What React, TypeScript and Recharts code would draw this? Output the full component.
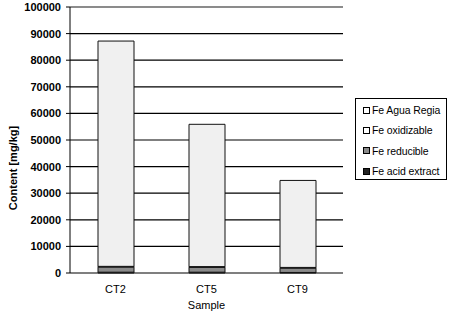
import React from "react"
import { BarChart, Bar, XAxis, YAxis, CartesianGrid, ReferenceLine } from "recharts"

const samples = ["CT2", "CT5", "CT9"]
const feAcidExtract = [300, 300, 200]
const feReducible = [1900, 1800, 1600]
const feOxidizable = [300, 300, 300]
const feAguaRegia = [84700, 53500, 32700]
const yTicks = [0, 10000, 20000, 30000, 40000, 50000, 60000, 70000, 80000, 90000, 100000]

const series = [
  { key: "Fe acid extract", values: feAcidExtract, fill: "#333333" },
  { key: "Fe reducible", values: feReducible, fill: "#8a8a8a" },
  { key: "Fe oxidizable", values: feOxidizable, fill: "#ffffff" },
  { key: "Fe Agua Regia", values: feAguaRegia, fill: "#f0f0f0" },
]

const legendItems = [
  { name: "Fe Agua Regia", fill: "#ffffff" },
  { name: "Fe oxidizable", fill: "#ffffff" },
  { name: "Fe reducible", fill: "#8a8a8a" },
  { name: "Fe acid extract", fill: "#222222" },
]

const rows = samples.map((s, i) => {
  const row: any = { sample: s }
  series.forEach((sr) => {
    row[sr.key] = sr.values[i]
  })
  return row
})

const font = "'Liberation Sans', Arial, sans-serif"

function LegendBox() {
  return (
    <div
      style={{
        position: "absolute",
        left: 355,
        top: 98,
        width: 92,
        height: 82,
        border: "1px solid #000",
        background: "#fff",
        fontFamily: font,
        fontSize: 10.5,
        letterSpacing: -0.1,
        color: "#000",
        boxSizing: "border-box",
        paddingTop: 1,
      }}
    >
      {legendItems.map((it) => (
        <div key={it.name} style={{ display: "flex", alignItems: "center", height: 20.3, paddingLeft: 7 }}>
          <span
            style={{
              display: "inline-block",
              width: 5,
              height: 5,
              border: "1px solid #000",
              background: it.fill,
              marginRight: 2,
            }}
          />
          <span>{it.name}</span>
        </div>
      ))}
    </div>
  )
}

export default function App() {
  return (
    <div style={{ position: "absolute", left: 0, top: 0, width: 454, height: 311, background: "#fff" }}>
      <BarChart width={454} height={311} data={rows} margin={{ top: 7, right: 111, left: 0, bottom: 0 }} barSize={36}>
        <CartesianGrid vertical={false} stroke="#000" strokeWidth={1.2} />
        <XAxis
          xAxisId="ticks"
          type="number"
          domain={[0, 3]}
          ticks={[0, 1, 2, 3]}
          tick={false}
          height={0}
          tickSize={4}
          stroke="#000"
          allowDataOverflow
        />
        <XAxis
          dataKey="sample"
          height={38}
          tickLine={false}
          axisLine={false}
          tick={{ fontFamily: font, fontSize: 11, fill: "#000" }}
          tickMargin={6}
          label={{ value: "Sample", position: "insideBottom", offset: 2, fontFamily: font, fontSize: 11, fill: "#000" }}
        />
        <YAxis
          width={70}
          domain={[0, 100000]}
          ticks={yTicks}
          interval={0}
          tickSize={4}
          tickMargin={5}
          stroke="#000"
          tick={{ fontFamily: font, fontSize: 11, fontWeight: "bold", fill: "#000" }}
          label={{
            content: () => (
              <text
                x={13}
                y={168}
                transform="rotate(-90 13 168)"
                textAnchor="middle"
                dominantBaseline="central"
                fontFamily={font}
                fontSize={11}
                fontWeight="bold"
                fill="#000"
              >
                Content [mg/kg]
              </text>
            ),
          }}
        />
        {series.map((sr) => (
          <Bar
            key={sr.key}
            dataKey={sr.key}
            stackId="fe"
            fill={sr.fill}
            stroke="#111"
            strokeWidth={1}
            isAnimationActive={false}
          />
        ))}
        <ReferenceLine y={100000} stroke="#999" strokeWidth={1} />
        <ReferenceLine x={3} xAxisId="ticks" stroke="#999" strokeWidth={1} />
      </BarChart>
      <LegendBox />
    </div>
  )
}
